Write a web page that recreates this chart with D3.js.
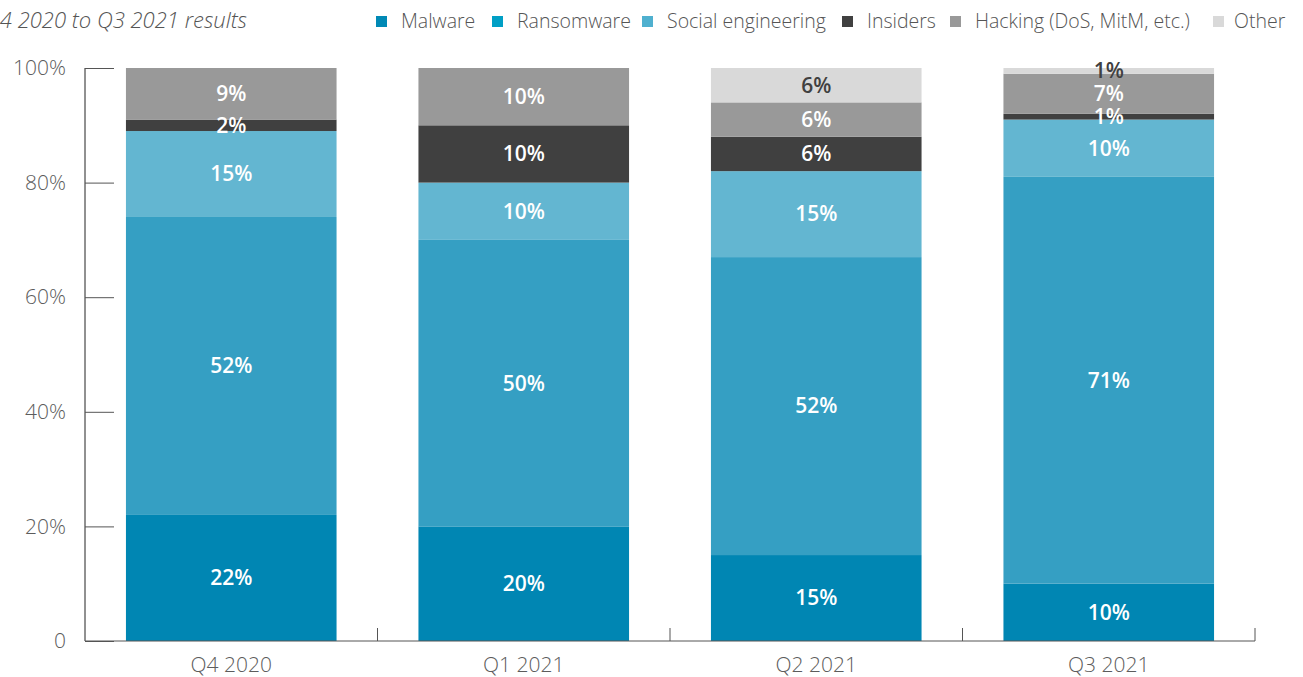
<!DOCTYPE html>
<html>
<head>
<meta charset="utf-8">
<script src="https://cdn.jsdelivr.net/npm/d3@7"></script>
<style>
  body { margin: 0; background: #fff; }
  svg { display: block; font-family: "Open Sans", sans-serif; }
</style>
</head>
<body>
<div id="chart"></div>
<script>
const quarters = ["Q4 2020", "Q1 2021", "Q2 2021", "Q3 2021"];
const categories = ["Malware", "Ransomware", "Social engineering", "Insiders", "Hacking (DoS, MitM, etc.)", "Other"];
const malware = [22, 20, 15, 10];
const ransomware = [52, 50, 52, 71];
const social = [15, 10, 15, 10];
const insiders = [2, 10, 6, 1];
const hacking = [9, 10, 6, 7];
const other = [0, 0, 6, 1];
const yTicks = [0, 20, 40, 60, 80, 100];
const colors = ["#0086b3", "#359fc3", "#63b6d1", "#404040", "#999999", "#d9d9d9"];
const legendColors = ["#0089b5", "#009fc5", "#4fb0cf", "#404040", "#999999", "#d9d9d9"];
const labelColors = ["#fff", "#fff", "#fff", "#fff", "#fff", "#404040"];

const series = [malware, ransomware, social, insiders, hacking, other];
const rows = quarters.map((q, i) => {
  const r = {quarter: q};
  categories.forEach((c, j) => r[c] = series[j][i]);
  return r;
});
const stacked = d3.stack().keys(categories)(rows);

const width = 1303, height = 677;
const margin = {top: 68, right: 48, bottom: 36, left: 85};
const visWidth = width - margin.left - margin.right;
const visHeight = height - margin.top - margin.bottom;

const svg = d3.select("#chart").append("svg")
    .attr("width", width)
    .attr("height", height);

const g = svg.append("g")
    .attr("transform", `translate(${margin.left}, ${margin.top})`);

const x = d3.scaleBand()
    .domain(quarters)
    .range([0, visWidth])
    .paddingInner(0.28)
    .paddingOuter(0.14);

const y = d3.scaleLinear()
    .domain([0, 100])
    .range([visHeight, 0]);

const color = d3.scaleOrdinal().domain(categories).range(colors);
const labelColor = d3.scaleOrdinal().domain(categories).range(labelColors);

// bars
const layer = g.selectAll("g.layer")
  .data(stacked)
  .join("g")
    .attr("class", "layer")
    .attr("fill", d => color(d.key));

layer.selectAll("rect")
  .data(d => d.filter(s => s[1] - s[0] > 0))
  .join("rect")
    .attr("x", d => x(d.data.quarter))
    .attr("y", d => y(d[1]))
    .attr("width", x.bandwidth())
    .attr("height", d => y(d[0]) - y(d[1]));

// segment labels
const labels = g.append("g")
    .attr("font-weight", 600)
    .attr("font-size", 21)
    .attr("text-anchor", "middle");

stacked.forEach(s => {
  labels.selectAll(null)
    .data(s.filter(d => d[1] - d[0] > 0))
    .join("text")
      .attr("x", d => x(d.data.quarter) + x.bandwidth() / 2)
      .attr("y", d => y((d[0] + d[1]) / 2))
      .attr("dy", "0.35em")
      .attr("fill", labelColor(s.key))
      .text(d => (d[1] - d[0]) + "%");
});

// y axis
const yAxis = d3.axisRight(y)
    .tickValues(yTicks)
    .tickSize(29)
    .tickFormat(d => d === 0 ? "0" : d + "%");

g.append("g")
    .call(yAxis)
    .call(a => a.select(".domain").attr("d", `M0,${visHeight}V0`).attr("stroke", "#222"))
    .call(a => a.selectAll(".tick line").attr("stroke", "#555"))
    .call(a => a.selectAll(".tick text")
        .attr("x", -19)
        .attr("text-anchor", "end")
        .attr("fill", "#5c5c5c")
        .attr("font-size", 21)
        .attr("font-weight", 300)
        .attr("font-family", "Open Sans, sans-serif"));

// x axis: baseline with ticks at band boundaries
const bounds = quarters.map(q => x(q) + x.bandwidth() + x.step() * x.paddingInner() / 2);
g.append("line")
    .attr("x1", 0)
    .attr("x2", bounds[bounds.length - 1])
    .attr("y1", visHeight)
    .attr("y2", visHeight)
    .attr("stroke", "#555");

g.selectAll("line.xtick")
  .data(bounds)
  .join("line")
    .attr("class", "xtick")
    .attr("x1", d => d)
    .attr("x2", d => d)
    .attr("y1", visHeight)
    .attr("y2", visHeight - 13)
    .attr("stroke", "#555");

g.selectAll("text.xlabel")
  .data(quarters)
  .join("text")
    .attr("class", "xlabel")
    .attr("x", d => x(d) + x.bandwidth() / 2)
    .attr("y", visHeight + 31)
    .attr("text-anchor", "middle")
    .attr("fill", "#5c5c5c")
    .attr("font-size", 21)
    .attr("font-weight", 300)
    .text(d => d);

// title (cut off on the left as in the source)
svg.append("text")
    .attr("x", 247)
    .attr("y", 28)
    .attr("text-anchor", "end")
    .attr("font-style", "italic")
    .attr("font-size", 22)
    .attr("font-weight", 300)
    .attr("fill", "#555")
    .text("Q4 2020 to Q3 2021 results");

// legend
const legendX = [376, 492, 642, 842, 950, 1213];
const legend = svg.append("g")
  .selectAll("g")
  .data(categories)
  .join("g")
    .attr("transform", (d, i) => `translate(${legendX[i]}, 16)`);

legend.append("rect")
    .attr("width", 11)
    .attr("height", 11)
    .attr("fill", (d, i) => legendColors[i]);

legend.append("text")
    .attr("x", d => d === "Other" ? 21 : 25)
    .attr("y", 12)
    .attr("fill", "#555")
    .attr("font-size", 19.5)
    .attr("font-weight", 300)
    .text(d => d);
</script>
</body>
</html>
